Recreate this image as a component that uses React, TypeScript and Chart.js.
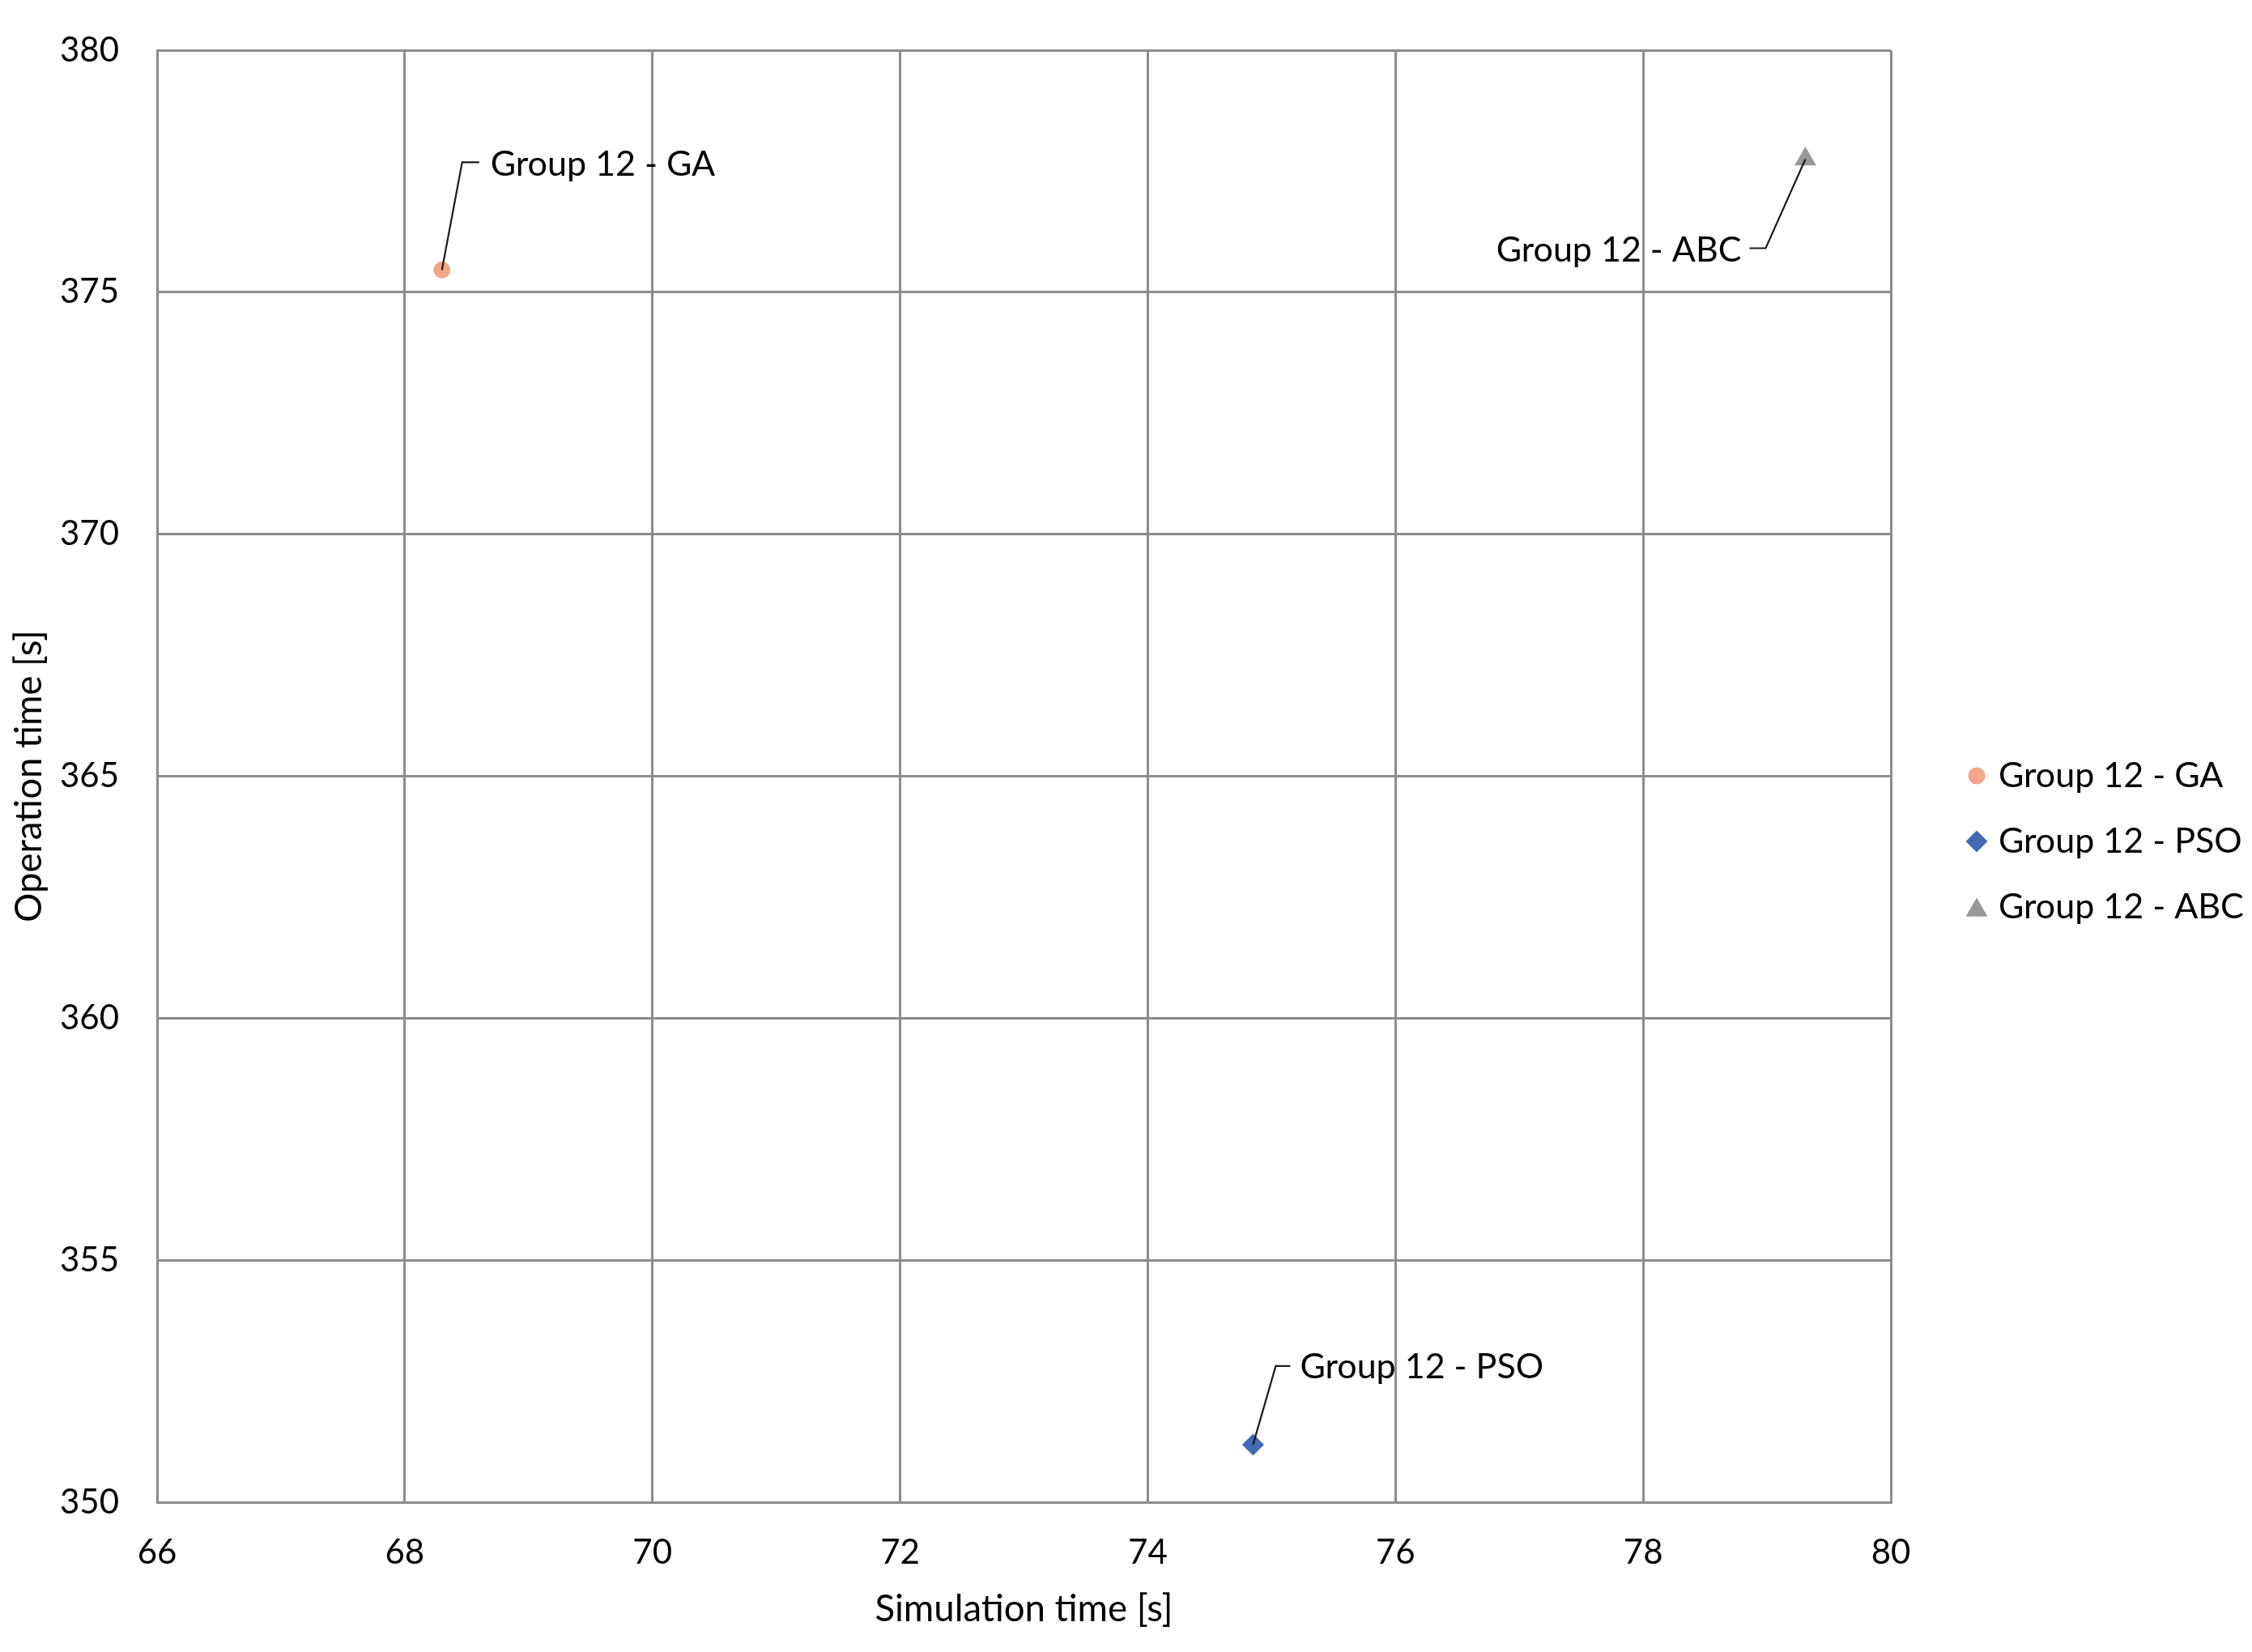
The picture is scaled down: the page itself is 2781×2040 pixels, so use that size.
import React, { useEffect, useRef } from 'react';
import { Chart, registerables } from 'chart.js';

Chart.register(...registerables);

// ---- data ----
const seriesNames = ['Group 12 - GA', 'Group 12 - PSO', 'Group 12 - ABC'];
const simulationTime = [68.3, 74.85, 79.31];
const operationTime = [375.46, 351.19, 377.75];
const xTickValues = [66, 68, 70, 72, 74, 76, 78, 80];
const yTickValues = [350, 355, 360, 365, 370, 375, 380];
const xTitle = 'Simulation time [s]';
const yTitle = 'Operation time [s]';

// ---- styles ----
const colors = ['#F2A68A', '#4169B4', '#999999'];
const pointStyles = ['circle', 'rectRot', 'triangle'];
const pointRadii = [10.5, 13.5, 15.5];
const FONT = 'Lato, "Open Sans", sans-serif';
const TICK_SIZE = 42;
const LABEL_SIZE = 43;
const TITLE_SIZE = 45.5;
const GRID = '#8c8c8c';

// leader-line callouts, relative to the point (pixels)
const callouts = [
  { path: [[0, 0], [25, -133], [46, -133]], text: [60, -130], align: 'left' },
  { path: [[0, 0], [28, -97], [46, -97]], text: [58, -96], align: 'left' },
  { path: [[0, 0], [-49, 110], [-69, 110]], text: [-79, 113], align: 'right' },
];

// legend layout (pixels)
const legendLayout = { markerX: 2441, textX: 2468, rows: [958, 1039, 1120] };

const calloutPlugin = {
  id: 'callouts',
  afterDatasetsDraw(chart: any) {
    const ctx = chart.ctx;
    ctx.save();
    chart.data.datasets.forEach((ds: any, i: number) => {
      const meta = chart.getDatasetMeta(i);
      const el = meta.data[0];
      if (!el) return;
      const c = callouts[i];
      ctx.beginPath();
      ctx.strokeStyle = '#1a1a1a';
      ctx.lineWidth = 2.2;
      c.path.forEach((p, k) => {
        const x = el.x + p[0];
        const y = el.y + p[1];
        if (k === 0) ctx.moveTo(x, y);
        else ctx.lineTo(x, y);
      });
      ctx.stroke();
      ctx.fillStyle = '#000';
      ctx.font = `${LABEL_SIZE}px ${FONT}`;
      ctx.textAlign = c.align;
      ctx.textBaseline = 'middle';
      ctx.fillText(ds.label, el.x + c.text[0], el.y + c.text[1]);
    });
    ctx.restore();
  },
};

function drawMarker(ctx: CanvasRenderingContext2D, style: string, x: number, y: number, r: number) {
  ctx.beginPath();
  if (style === 'circle') {
    ctx.arc(x, y, r, 0, Math.PI * 2);
  } else if (style === 'rectRot') {
    ctx.moveTo(x - r, y);
    ctx.lineTo(x, y - r);
    ctx.lineTo(x + r, y);
    ctx.lineTo(x, y + r);
    ctx.closePath();
  } else {
    const h = r * 1.5;
    const w = r * Math.sqrt(3);
    const top = y - h / 2 - r / 4;
    ctx.moveTo(x, top);
    ctx.lineTo(x + w / 2, top + h);
    ctx.lineTo(x - w / 2, top + h);
    ctx.closePath();
  }
  ctx.fill();
}

const legendPlugin = {
  id: 'customLegend',
  afterDraw(chart: any) {
    const ctx = chart.ctx;
    ctx.save();
    chart.data.datasets.forEach((ds: any, i: number) => {
      const y = legendLayout.rows[i];
      ctx.fillStyle = colors[i];
      drawMarker(ctx, pointStyles[i], legendLayout.markerX, y + (i === 2 ? 4 : 0), pointRadii[i]);
      ctx.fillStyle = '#000';
      ctx.font = `${LABEL_SIZE}px ${FONT}`;
      ctx.textAlign = 'left';
      ctx.textBaseline = 'middle';
      ctx.fillText(ds.label, legendLayout.textX, y);
    });
    ctx.restore();
  },
};

export default function App() {
  const ref = useRef<HTMLCanvasElement | null>(null);

  useEffect(() => {
    if (!ref.current) return;
    const datasets = seriesNames.map((name, i) => ({
      label: name,
      data: [{ x: simulationTime[i], y: operationTime[i] }],
      backgroundColor: colors[i],
      borderColor: colors[i],
      borderWidth: 0,
      pointStyle: pointStyles[i],
      pointRadius: pointRadii[i],
      pointHoverRadius: pointRadii[i],
    }));

    const tickFont = { family: FONT, size: TICK_SIZE };
    const titleFont = { family: FONT, size: TITLE_SIZE };
    const chart = new Chart(ref.current, {
      type: 'scatter',
      data: { datasets },
      options: {
        animation: false,
        responsive: false,
        devicePixelRatio: 1,
        layout: { padding: { top: 62, right: 2781 - 2335, bottom: 0, left: 0 } },
        plugins: {
          legend: { display: false },
          tooltip: { enabled: false },
        },
        scales: {
          x: {
            type: 'linear',
            min: xTickValues[0],
            max: xTickValues[xTickValues.length - 1],
            afterBuildTicks: (s: any) => {
              s.ticks = xTickValues.map((v) => ({ value: v }));
            },
            afterFit: (s: any) => {
              s.height = 2040 - 1855;
              s.paddingLeft = 0;
              s.paddingRight = 0;
            },
            ticks: { font: tickFont, color: '#000', padding: 37, maxRotation: 0 },
            grid: { color: GRID, lineWidth: 3, drawTicks: false },
            border: { display: true, color: GRID, width: 3 },
            title: {
              display: true,
              text: xTitle,
              font: titleFont,
              color: '#000',
              padding: { top: 0, bottom: 25 },
            },
          },
          y: {
            type: 'linear',
            min: yTickValues[0],
            max: yTickValues[yTickValues.length - 1],
            afterBuildTicks: (s: any) => {
              s.ticks = yTickValues.map((v) => ({ value: v }));
            },
            afterFit: (s: any) => {
              s.width = 194;
              s.paddingTop = 0;
              s.paddingBottom = 0;
            },
            ticks: { font: tickFont, color: '#000', padding: 47 },
            grid: { color: GRID, lineWidth: 3, drawTicks: false },
            border: { display: true, color: GRID, width: 3 },
            title: {
              display: true,
              text: yTitle,
              font: titleFont,
              color: '#000',
              padding: { top: 9, bottom: 0 },
            },
          },
        },
      },
      plugins: [calloutPlugin, legendPlugin],
    } as any);
    return () => chart.destroy();
  }, []);

  return (
    <div style={{ position: 'absolute', left: 0, top: 0, width: 2781, height: 2040, background: '#fff' }}>
      <canvas ref={ref} width={2781} height={2040} style={{ width: 2781, height: 2040, display: 'block' }} />
    </div>
  );
}
